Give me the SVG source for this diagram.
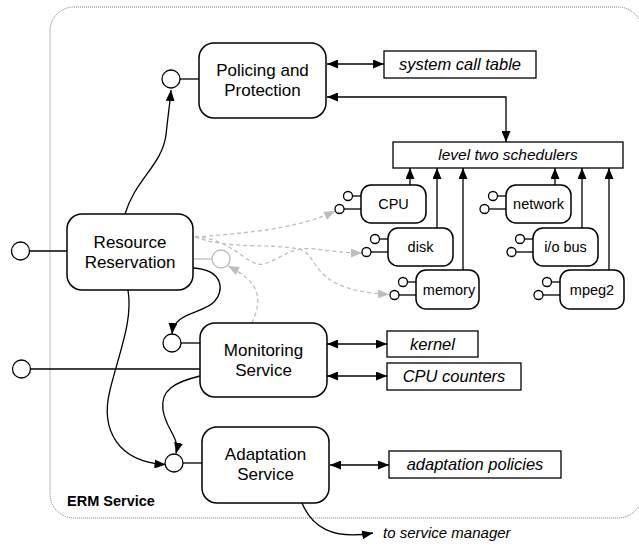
<svg xmlns="http://www.w3.org/2000/svg" width="639" height="553" viewBox="0 0 639 553">
  <style>
    text { font-family: "Liberation Sans", Arial, sans-serif; fill: #000; }
    .lbl { font-size: 17px; text-anchor: middle; }
    .res { font-size: 14.5px; text-anchor: middle; }
    .ital { font-size: 16.5px; font-style: italic; text-anchor: middle; }
    .node { fill: #fff; stroke: #000; stroke-width: 1.5; }
    .box { fill: #fff; stroke: #000; stroke-width: 1.3; }
    .port { fill: #fff; stroke: #000; stroke-width: 1.3; }
    .wire { fill: none; stroke: #000; stroke-width: 1.3; }
    .ghost { fill: none; stroke: #bdbdbd; stroke-width: 1.3; }
    .ghostdash { fill: none; stroke: #bdbdbd; stroke-width: 1.3; stroke-dasharray: 4 3; }
    .frame { fill: none; stroke: #777; stroke-width: 1; stroke-dasharray: 1 1; }
  </style>
  <defs>
    <marker id="ah" markerUnits="userSpaceOnUse" markerWidth="11" markerHeight="9" refX="11" refY="4.5" orient="auto-start-reverse">
      <path d="M0,0 L11,4.5 L0,9 z" fill="#000"/>
    </marker>
    <marker id="ahg" markerUnits="userSpaceOnUse" markerWidth="11" markerHeight="9" refX="11" refY="4.5" orient="auto-start-reverse">
      <path d="M0,0 L11,4.5 L0,9 z" fill="#bdbdbd"/>
    </marker>
  </defs>

  <!-- service boundary -->
  <g id="erm-service">
    <rect class="frame" x="50" y="7" width="592" height="511" rx="24"/>
    <text x="67" y="506" style="font-size:14.5px;font-weight:bold">ERM Service</text>
  </g>

  <!-- connectors -->
  <g id="connectors">
    <!-- lollipop stems -->
    <line class="wire" x1="180" y1="79" x2="199" y2="79"/>
    <line class="wire" x1="29.5" y1="251" x2="67" y2="251"/>
    <line class="wire" x1="30.5" y1="369" x2="200" y2="369"/>
    <line class="wire" x1="181" y1="343" x2="200" y2="343"/>
    <line class="wire" x1="183" y1="463" x2="202" y2="463"/>
    <line class="ghost" x1="193" y1="259" x2="212" y2="259"/>

    <!-- control flow -->
    <path class="wire" d="M125,214 C135,180 162,165 166,135 C168,115 170,103 171,90" marker-end="url(#ah)"/>
    <path class="wire" d="M193,268 C225,270 224,292 214,302 C202,314 174,312 172,334" marker-end="url(#ah)"/>
    <path class="wire" d="M128,290 C133,320 120,350 110,390 C100,430 118,462 165.5,464.5" marker-end="url(#ah)"/>
    <path class="wire" d="M200,376 C175,382 160,390 163,410 C166,430 180,437 176,453.5" marker-end="url(#ah)"/>
    <path class="wire" d="M302,503 C312,527 332,540 373,533" marker-end="url(#ah)"/>

    <!-- data links -->
    <line class="wire" x1="327" y1="64" x2="384" y2="64" marker-start="url(#ah)" marker-end="url(#ah)"/>
    <path class="wire" d="M327,97 H506 V142" marker-start="url(#ah)" marker-end="url(#ah)"/>
    <line class="wire" x1="327" y1="344" x2="387" y2="344" marker-start="url(#ah)" marker-end="url(#ah)"/>
    <line class="wire" x1="327" y1="376" x2="387" y2="376" marker-start="url(#ah)" marker-end="url(#ah)"/>
    <line class="wire" x1="330" y1="465" x2="389" y2="465" marker-start="url(#ah)" marker-end="url(#ah)"/>

    <!-- schedulers feed -->
    <line class="wire" x1="410" y1="185" x2="410" y2="168" marker-end="url(#ah)"/>
    <line class="wire" x1="437" y1="228" x2="437" y2="168" marker-end="url(#ah)"/>
    <line class="wire" x1="463" y1="270" x2="463" y2="168" marker-end="url(#ah)"/>
    <line class="wire" x1="555" y1="185" x2="555" y2="168" marker-end="url(#ah)"/>
    <line class="wire" x1="582" y1="228" x2="582" y2="168" marker-end="url(#ah)"/>
    <line class="wire" x1="609" y1="270" x2="609" y2="168" marker-end="url(#ah)"/>

    <!-- reservations (dashed) -->
    <path class="ghostdash" d="M195,237 C250,233 300,228 335,211" marker-end="url(#ahg)"/>
    <path class="ghostdash" d="M195,237 C232,238 248,268 264,264 C282,258 292,246 315,249 C330,251 345,253 362,253" marker-end="url(#ahg)"/>
    <path class="ghostdash" d="M195,237 C230,250 270,243 298,249 C322,254 305,290 389,294.5" marker-end="url(#ahg)"/>
    <path class="ghostdash" d="M252,323 C262,300 262,283 228,266" marker-end="url(#ahg)"/>
  </g>

  <!-- ports -->
  <g id="ports">
    <circle class="port" cx="171" cy="79" r="9"/>
    <circle class="port" cx="20.5" cy="251" r="9"/>
    <circle class="port" cx="21.5" cy="369" r="9"/>
    <circle class="port" cx="172" cy="343" r="9"/>
    <circle class="port" cx="174" cy="463" r="9"/>
    <circle cx="221" cy="259" r="9" fill="#fff" stroke="#bdbdbd" stroke-width="1.3"/>
  </g>

  <g id="policing">
    <rect class="node" x="199" y="43" width="127" height="75" rx="15"/>
    <text class="lbl" x="262.5" y="76">Policing and</text>
    <text class="lbl" x="262.5" y="96">Protection</text>
  </g>
  <g id="reservation">
    <rect class="node" x="67" y="214" width="126" height="76" rx="15"/>
    <text class="lbl" x="130" y="248">Resource</text>
    <text class="lbl" x="130" y="268">Reservation</text>
  </g>
  <g id="monitoring">
    <rect class="node" x="200" y="323" width="127" height="74" rx="15"/>
    <text class="lbl" x="263.5" y="356">Monitoring</text>
    <text class="lbl" x="263.5" y="376">Service</text>
  </g>
  <g id="adaptation">
    <rect class="node" x="202" y="427" width="127" height="76" rx="15"/>
    <text class="lbl" x="265.5" y="460">Adaptation</text>
    <text class="lbl" x="265.5" y="480">Service</text>
  </g>

  <g id="syscall-table">
    <rect class="box" x="384" y="51" width="152" height="27"/>
    <text class="ital" x="460" y="70">system call table</text>
  </g>
  <g id="schedulers">
    <rect class="box" x="393" y="142" width="230" height="26"/>
    <text class="ital" x="508" y="160" style="font-size:15.5px">level two schedulers</text>
  </g>
  <g id="kernel">
    <rect class="box" x="387" y="331" width="91" height="26"/>
    <text class="ital" x="432.5" y="350">kernel</text>
  </g>
  <g id="cpu-counters">
    <rect class="box" x="387" y="363" width="134" height="27"/>
    <text class="ital" x="454" y="382">CPU counters</text>
  </g>
  <g id="adaptation-policies">
    <rect class="box" x="389" y="451" width="172" height="27"/>
    <text class="ital" x="475" y="470">adaptation policies</text>
  </g>
  <g id="service-manager">
    <text x="383" y="538" style="font-size:15px;font-style:italic">to service manager</text>
  </g>

  <!-- resources: each with two ports on the left -->
  <g id="cpu">
    <line class="wire" x1="352.5" y1="196" x2="361" y2="196"/>
    <line class="wire" x1="344" y1="209" x2="361" y2="209"/>
    <circle class="port" cx="348" cy="196" r="4.5"/>
    <circle class="port" cx="339.5" cy="209" r="4.5"/>
    <rect class="node" x="361" y="185" width="65" height="38" rx="10"/>
    <text class="res" x="393.5" y="209">CPU</text>
  </g>
  <g id="disk">
    <line class="wire" x1="379.5" y1="239" x2="388" y2="239"/>
    <line class="wire" x1="371" y1="252" x2="388" y2="252"/>
    <circle class="port" cx="375" cy="239" r="4.5"/>
    <circle class="port" cx="366.5" cy="252" r="4.5"/>
    <rect class="node" x="388" y="228" width="65" height="38" rx="10"/>
    <text class="res" x="420.5" y="252">disk</text>
  </g>
  <g id="memory">
    <line class="wire" x1="407.5" y1="282" x2="416" y2="282"/>
    <line class="wire" x1="399" y1="295" x2="416" y2="295"/>
    <circle class="port" cx="403" cy="282" r="4.5"/>
    <circle class="port" cx="394.5" cy="295" r="4.5"/>
    <rect class="node" x="416" y="270" width="63" height="39" rx="10"/>
    <text class="res" x="449" y="295">memory</text>
  </g>
  <g id="network">
    <line class="wire" x1="497.5" y1="196" x2="506" y2="196"/>
    <line class="wire" x1="489" y1="209" x2="506" y2="209"/>
    <circle class="port" cx="493" cy="196" r="4.5"/>
    <circle class="port" cx="484.5" cy="209" r="4.5"/>
    <rect class="node" x="506" y="185" width="65" height="38" rx="10"/>
    <text class="res" x="538.5" y="209">network</text>
  </g>
  <g id="io-bus">
    <line class="wire" x1="524.5" y1="239" x2="533" y2="239"/>
    <line class="wire" x1="516" y1="252" x2="533" y2="252"/>
    <circle class="port" cx="520" cy="239" r="4.5"/>
    <circle class="port" cx="511.5" cy="252" r="4.5"/>
    <rect class="node" x="533" y="228" width="65" height="38" rx="10"/>
    <text class="res" x="565.5" y="252">i/o bus</text>
  </g>
  <g id="mpeg2">
    <line class="wire" x1="551.5" y1="282" x2="560" y2="282"/>
    <line class="wire" x1="543" y1="295" x2="560" y2="295"/>
    <circle class="port" cx="547" cy="282" r="4.5"/>
    <circle class="port" cx="538.5" cy="295" r="4.5"/>
    <rect class="node" x="560" y="270" width="64" height="39" rx="10"/>
    <text class="res" x="592" y="295">mpeg2</text>
  </g>
</svg>
